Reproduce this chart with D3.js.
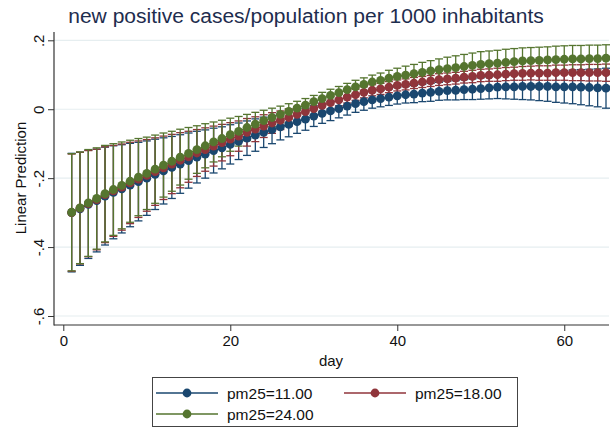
<!DOCTYPE html>
<html><head><meta charset="utf-8">
<script src="https://cdn.jsdelivr.net/npm/d3@7"></script>
<style>body{margin:0;background:#fff}svg{display:block;font-family:"Liberation Sans",Arial,Helvetica,sans-serif}</style>
</head><body><svg id="c" width="610" height="432"></svg>
<script>
const days = [1,2,3,4,5,6,7,8,9,10,11,12,13,14,15,16,17,18,19,20,21,22,23,24,25,26,27,28,29,30,31,32,33,34,35,36,37,38,39,40,41,42,43,44,45,46,47,48,49,50,51,52,53,54,55,56,57,58,59,60,61,62,63,64,65];
const seriesNames = ["pm25=11.00","pm25=18.00","pm25=24.00"];
const seriesColors = ["#1a476f","#90353b","#55752f"];
const blueMean = [-0.300,-0.289,-0.276,-0.265,-0.252,-0.241,-0.231,-0.220,-0.210,-0.200,-0.189,-0.179,-0.169,-0.159,-0.149,-0.139,-0.130,-0.120,-0.112,-0.102,-0.093,-0.084,-0.075,-0.067,-0.059,-0.051,-0.044,-0.036,-0.029,-0.020,-0.012,-0.005,0.002,0.009,0.016,0.022,0.027,0.031,0.035,0.039,0.042,0.044,0.047,0.049,0.052,0.054,0.055,0.057,0.058,0.060,0.062,0.064,0.065,0.065,0.066,0.066,0.066,0.066,0.065,0.065,0.065,0.064,0.063,0.062,0.061];
const redMean = [-0.300,-0.287,-0.274,-0.262,-0.248,-0.237,-0.226,-0.214,-0.203,-0.192,-0.181,-0.170,-0.159,-0.148,-0.138,-0.127,-0.117,-0.107,-0.097,-0.087,-0.078,-0.067,-0.058,-0.049,-0.040,-0.032,-0.024,-0.015,-0.007,0.002,0.011,0.019,0.027,0.035,0.042,0.049,0.055,0.059,0.064,0.069,0.072,0.076,0.079,0.082,0.086,0.088,0.090,0.093,0.095,0.098,0.099,0.100,0.102,0.103,0.104,0.105,0.105,0.105,0.106,0.106,0.106,0.106,0.106,0.106,0.106];
const greenMean = [-0.299,-0.286,-0.272,-0.259,-0.245,-0.233,-0.221,-0.209,-0.197,-0.186,-0.174,-0.162,-0.151,-0.139,-0.128,-0.117,-0.106,-0.095,-0.085,-0.074,-0.064,-0.053,-0.043,-0.033,-0.024,-0.015,-0.006,0.003,0.012,0.022,0.031,0.040,0.048,0.057,0.065,0.072,0.079,0.084,0.090,0.095,0.099,0.103,0.107,0.111,0.115,0.118,0.121,0.124,0.127,0.130,0.132,0.134,0.136,0.138,0.140,0.141,0.142,0.143,0.144,0.145,0.146,0.146,0.147,0.147,0.148];
const blueHalfCI = [0.172,0.164,0.157,0.149,0.142,0.135,0.128,0.121,0.114,0.108,0.102,0.096,0.090,0.085,0.080,0.075,0.070,0.065,0.061,0.057,0.053,0.050,0.047,0.044,0.041,0.038,0.036,0.034,0.032,0.030,0.029,0.028,0.027,0.026,0.025,0.025,0.024,0.024,0.024,0.024,0.024,0.025,0.025,0.026,0.026,0.027,0.028,0.029,0.030,0.031,0.032,0.033,0.035,0.036,0.038,0.039,0.041,0.043,0.045,0.047,0.049,0.051,0.053,0.055,0.058];
const redHalfCI = [0.170,0.162,0.154,0.146,0.139,0.132,0.125,0.118,0.111,0.104,0.098,0.092,0.086,0.080,0.074,0.068,0.063,0.058,0.053,0.048,0.044,0.040,0.036,0.033,0.030,0.027,0.025,0.023,0.021,0.020,0.019,0.018,0.017,0.017,0.016,0.016,0.016,0.016,0.016,0.016,0.016,0.016,0.016,0.016,0.017,0.017,0.017,0.017,0.018,0.018,0.018,0.019,0.019,0.019,0.020,0.020,0.021,0.021,0.022,0.022,0.023,0.023,0.024,0.024,0.025];
const greenHalfCI = [0.170,0.162,0.155,0.147,0.140,0.133,0.126,0.119,0.112,0.105,0.099,0.093,0.087,0.081,0.075,0.069,0.064,0.058,0.053,0.048,0.043,0.038,0.034,0.030,0.027,0.024,0.022,0.020,0.019,0.018,0.018,0.018,0.018,0.018,0.019,0.019,0.020,0.021,0.023,0.024,0.026,0.027,0.029,0.030,0.031,0.033,0.034,0.035,0.036,0.037,0.037,0.037,0.038,0.038,0.038,0.038,0.038,0.038,0.039,0.039,0.039,0.039,0.039,0.039,0.039];
const yTicks = [-0.6,-0.4,-0.2,0,0.2];
const yTickLabels = ["-.6","-.4","-.2","0",".2"];
const xTicks = [0,20,40,60];
const xTickLabels = ["0","20","40","60"];
const titleText = "new positive cases/population per 1000 inhabitants";
const yTitle = "Linear Prediction";
const xTitle = "day";

const means = [blueMean, redMean, greenMean];
const halfs = [blueHalfCI, redHalfCI, greenHalfCI];

const svg = d3.select("#c");
const plotL = 54, plotR = 609, plotT = 32, plotB = 325;
const x = d3.scaleLinear().domain([0,65]).range([63.3,606]);
const y = d3.scaleLinear().domain([-0.6,0.2]).range([316,40.3]);

// gridlines
svg.append("g").selectAll("line").data(yTicks).join("line")
  .attr("x1",plotL).attr("x2",plotR)
  .attr("y1",d=>y(d)).attr("y2",d=>y(d))
  .attr("stroke","#e6eef0").attr("stroke-width",1.2);

// axes
const yAxis = d3.axisLeft(y).tickValues(yTicks).tickFormat((d,i)=>yTickLabels[i]).tickSize(6).tickSizeOuter(0);
const gy = svg.append("g").attr("transform",`translate(${plotL},0)`).call(yAxis);
gy.select(".domain").remove();
gy.selectAll(".tick line").attr("stroke","#333");
gy.selectAll(".tick text").attr("x",0).attr("dy",null)
  .attr("text-anchor","middle").attr("dominant-baseline","central")
  .attr("transform","translate(-16,0) rotate(-90)")
  .attr("font-size",15).attr("fill","#111").attr("font-family",null);

const xAxis = d3.axisBottom(x).tickValues(xTicks).tickFormat((d,i)=>xTickLabels[i]).tickSize(6).tickSizeOuter(0);
const gx = svg.append("g").attr("transform",`translate(0,${plotB})`).call(xAxis);
gx.select(".domain").remove();
gx.selectAll(".tick line").attr("stroke","#333");
gx.selectAll(".tick text").attr("y",10).attr("dy","0.71em").attr("font-size",15).attr("fill","#111").attr("font-family",null);

svg.append("line").attr("x1",plotL).attr("x2",plotL).attr("y1",plotT).attr("y2",plotB+0.5).attr("stroke","#333").attr("stroke-width",1.2);
svg.append("line").attr("x1",plotL).attr("x2",plotR).attr("y1",plotB).attr("y2",plotB).attr("stroke","#333").attr("stroke-width",1.2);

// CI bars
means.forEach((m,si)=>{
  const g = svg.append("g").attr("stroke",seriesColors[si]).attr("stroke-width",1.3).attr("fill","none");
  days.forEach((d,i)=>{
    const lo = y(m[i]-halfs[si][i]), hi = y(m[i]+halfs[si][i]), cx = x(d);
    g.append("line").attr("x1",cx).attr("x2",cx).attr("y1",lo).attr("y2",hi);
    g.append("line").attr("x1",cx-4).attr("x2",cx+4).attr("y1",lo).attr("y2",lo);
    g.append("line").attr("x1",cx-4).attr("x2",cx+4).attr("y1",hi).attr("y2",hi);
  });
});
// lines + markers
const line = d3.line().x((d,i)=>x(days[i])).y(d=>y(d));
means.forEach((m,si)=>{
  svg.append("path").attr("d",line(m)).attr("fill","none").attr("stroke",seriesColors[si]).attr("stroke-width",1.3);
  svg.append("g").selectAll("circle").data(m).join("circle")
    .attr("cx",(d,i)=>x(days[i])).attr("cy",d=>y(d)).attr("r",4.4).attr("fill",seriesColors[si]);
});

// titles
const t = svg.append("text").attr("x",306).attr("y",23).attr("text-anchor","middle")
  .attr("font-size",18).attr("fill","#1e2d4e").text(titleText);
const tw = t.node().getComputedTextLength();
t.attr("font-size",18*476/tw);
svg.append("text").attr("transform","translate(20,178) rotate(-90)").attr("text-anchor","middle")
  .attr("dominant-baseline","central").attr("font-size",15).attr("fill","#111").text(yTitle);
svg.append("text").attr("x",331).attr("y",366).attr("text-anchor","middle").attr("font-size",15).attr("fill","#111").text(xTitle);

// legend
svg.append("rect").attr("x",152.5).attr("y",377.5).attr("width",365).attr("height",49).attr("fill","#fff").attr("stroke","#444").attr("stroke-width",1);
const legPos = [[156,393],[344,393],[156,414]];
seriesNames.forEach((n,si)=>{
  const [lx,ly] = legPos[si];
  svg.append("line").attr("x1",lx).attr("x2",lx+62).attr("y1",ly).attr("y2",ly).attr("stroke",seriesColors[si]).attr("stroke-width",1.3);
  svg.append("circle").attr("cx",lx+31).attr("cy",ly).attr("r",4.4).attr("fill",seriesColors[si]);
  svg.append("text").attr("x",lx+71).attr("y",ly).attr("dominant-baseline","central").attr("font-size",15.5).attr("fill","#111").text(n);
});
</script></body></html>
